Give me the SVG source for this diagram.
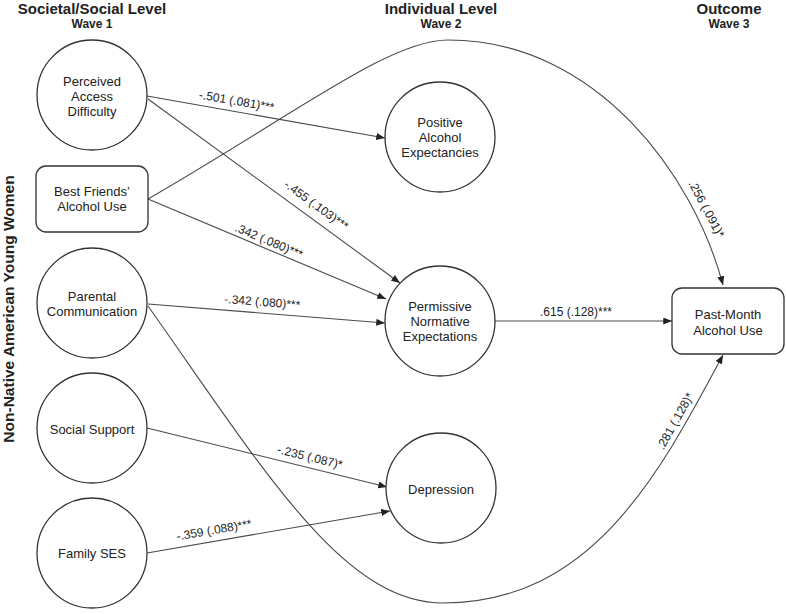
<svg xmlns="http://www.w3.org/2000/svg" width="786" height="614" viewBox="0 0 786 614">
<defs>
<style>
text{font-family:"Liberation Sans",Arial,sans-serif;fill:#222}
.hd{font-size:15px;font-weight:bold;text-anchor:middle}
.wv{font-size:12px;font-weight:bold;text-anchor:middle}
.nt{font-size:13px;text-anchor:middle}
.lb{font-size:12px;text-anchor:middle}
.node{fill:#fff;stroke:#333;stroke-width:1.3}
.edge{fill:none;stroke:#4a4a4a;stroke-width:1.1;marker-end:url(#arr)}
</style>
<marker id="arr" viewBox="0 0 10 8" refX="10" refY="4" markerWidth="9" markerHeight="7" markerUnits="userSpaceOnUse" orient="auto">
<path d="M0,0 L10,4 L0,8 z" fill="#222"/>
</marker>
</defs>
<rect width="786" height="614" fill="#fff"/>

<g id="headers">
<text class="hd" x="92" y="14">Societal/Social Level</text>
<text class="wv" x="92" y="28">Wave 1</text>
<text class="hd" x="441" y="14">Individual Level</text>
<text class="wv" x="441" y="28">Wave 2</text>
<text class="hd" x="729" y="14">Outcome</text>
<text class="wv" x="729" y="28">Wave 3</text>
<text class="hd" style="font-size:15.5px" x="0" y="0" transform="translate(13.5,309) rotate(-90)">Non-Native American Young Women</text>
</g>

<g id="connectors">
<path class="edge" d="M147,96 L385,138"/>
<path class="edge" d="M148,99 L400,283"/>
<path class="edge" d="M148,199 L386,299"/>
<path class="edge" d="M148,304 L385,323"/>
<path class="edge" d="M147,428 L387,487"/>
<path class="edge" d="M147,553 L390,511"/>
<path class="edge" d="M495,321 L672,321"/>
<path class="edge" d="M148,199 C300,111 390,40 448,40 C598,40 694.4,177.4 723,285"/>
<path class="edge" d="M148,306 C264,470 343,603 443,603 C593,603 660.6,471.4 723,355"/>
<text class="lb" x="236" y="105" transform="rotate(9.8 236 105)">-.501 (.081)***</text>
<text class="lb" x="314" y="208.5" transform="rotate(36 314 208.5)">-.455 (.103)***</text>
<text class="lb" x="267.4" y="244.7" transform="rotate(22.9 267.4 244.7)">.342 (.080)***</text>
<text class="lb" x="262" y="306" transform="rotate(4.6 262 306)">-.342 (.080)***</text>
<text class="lb" x="309" y="461" transform="rotate(13.8 309 461)">-.235 (.087)*</text>
<text class="lb" x="214.7" y="534" transform="rotate(-9.8 214.7 534)">-.359 (.088)***</text>
<text class="lb" x="576" y="316">.615 (.128)***</text>
<text class="lb" x="703" y="211" transform="rotate(62 703 211)">.256 (.091)*</text>
<text class="lb" x="678.7" y="423" transform="rotate(-61 678.7 423)">.281 (.128)*</text>
</g>

<g id="perceived-access-difficulty">
<circle class="node" cx="92" cy="95" r="55"/>
<text class="nt" x="92" y="85.5">Perceived</text>
<text class="nt" x="92" y="100.5">Access</text>
<text class="nt" x="92" y="115.5">Difficulty</text>
</g>
<g id="best-friends-alcohol-use">
<rect class="node" x="36" y="166" width="112" height="66" rx="10"/>
<text class="nt" x="92" y="196">Best Friends’</text>
<text class="nt" x="92" y="211">Alcohol Use</text>
</g>
<g id="parental-communication">
<circle class="node" cx="92" cy="303" r="55"/>
<text class="nt" x="92" y="300.5">Parental</text>
<text class="nt" x="92" y="316">Communication</text>
</g>
<g id="social-support">
<circle class="node" cx="92" cy="428" r="55"/>
<text class="nt" x="92" y="433.5">Social Support</text>
</g>
<g id="family-ses">
<circle class="node" cx="92" cy="553" r="55"/>
<text class="nt" x="92" y="557.5">Family SES</text>
</g>
<g id="positive-alcohol-expectancies">
<circle class="node" cx="440" cy="137" r="55"/>
<text class="nt" x="440" y="126.5">Positive</text>
<text class="nt" x="440" y="141.5">Alcohol</text>
<text class="nt" x="440" y="156.5">Expectancies</text>
</g>
<g id="permissive-normative-expectations">
<circle class="node" cx="440" cy="321" r="55"/>
<text class="nt" x="440" y="311">Permissive</text>
<text class="nt" x="440" y="326">Normative</text>
<text class="nt" x="440" y="341">Expectations</text>
</g>
<g id="depression">
<circle class="node" cx="441" cy="488" r="55"/>
<text class="nt" x="441" y="493.5">Depression</text>
</g>
<g id="past-month-alcohol-use">
<rect class="node" x="672" y="288" width="112" height="66" rx="10"/>
<text class="nt" x="728" y="318.5">Past-Month</text>
<text class="nt" x="728" y="334.5">Alcohol Use</text>
</g>
</svg>
